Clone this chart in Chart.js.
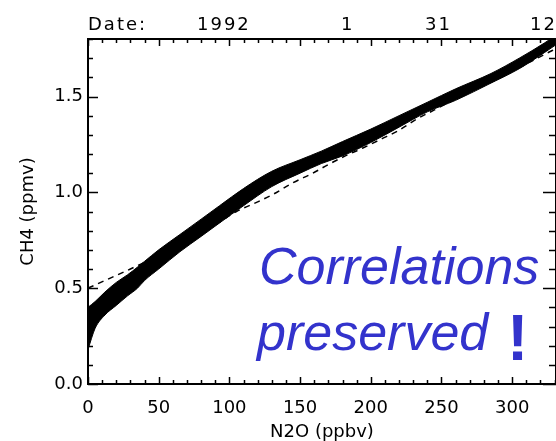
<!DOCTYPE html>
<html>
<head>
<meta charset="utf-8">
<script src="https://cdn.jsdelivr.net/npm/chart.js@4"></script>
<style>
  body { margin: 0; background: #fff; }
  canvas { display: block; }
</style>
</head>
<body>
<canvas id="chart" width="556" height="441"></canvas>
<script>
// N2O (ppbv) positions along the band
var bandX     = [0, 5, 12, 20, 28, 35, 40, 50, 65, 80, 93, 110, 130, 150, 165, 180, 200, 220, 240, 260, 285, 305, 323, 331];
// CH4 (ppmv) upper and lower edge of the scatter cloud
var bandUpper = [0.40, 0.43, 0.48, 0.53, 0.57, 0.61, 0.64, 0.70, 0.78, 0.86, 0.93, 1.02, 1.11, 1.17, 1.215, 1.265, 1.33, 1.40, 1.47, 1.54, 1.62, 1.70, 1.78, 1.82];
var bandLower = [0.18, 0.29, 0.36, 0.41, 0.46, 0.50, 0.54, 0.60, 0.69, 0.77, 0.84, 0.93, 1.03, 1.10, 1.15, 1.19, 1.26, 1.34, 1.42, 1.48, 1.57, 1.645, 1.73, 1.77];

// dashed reference curve
var dashX = [0, 15, 30, 50, 70, 90, 105, 120, 131, 145, 159, 170, 182, 194, 208, 219, 232, 245, 258, 271, 284, 297, 310, 323, 331];
var dashY = [0.50, 0.55, 0.60, 0.67, 0.74, 0.83, 0.90, 0.95, 0.99, 1.05, 1.10, 1.145, 1.19, 1.23, 1.28, 1.32, 1.38, 1.43, 1.48, 1.53, 1.57, 1.62, 1.67, 1.72, 1.75];

var xTicks = [0, 50, 100, 150, 200, 250, 300];
var yTicks = [0, 0.5, 1.0, 1.5];
var dateLabels = ['Date:', '1992', '1', '31', '12'];

function pts(xs, ys) {
    return xs.map(function (x, i) { return { x: x, y: ys[i] }; });
}

// IDL style frame: inward ticks on all four sides, date line and the note
var idlFrame = {
    id: 'idlFrame',
    afterDraw: function (chart) {
        var c = chart.ctx, a = chart.chartArea;
        var xs = chart.scales.x, ys = chart.scales.y;
        c.save();
        c.strokeStyle = '#000';
        c.lineWidth = 2;
        c.strokeRect(a.left, a.top, a.right - a.left, a.bottom - a.top);

        c.lineWidth = 1.5;
        c.beginPath();
        for (var v = 0; v <= xs.max; v += 10) {
            var px = Math.round(xs.getPixelForValue(v)) + 0.5;
            var len = v % 50 === 0 ? 7 : 4;
            c.moveTo(px, a.bottom); c.lineTo(px, a.bottom - len);
            c.moveTo(px, a.top); c.lineTo(px, a.top + len);
        }
        for (var k = 0; k <= 18; k++) {
            var py = Math.round(ys.getPixelForValue(k / 10)) + 0.5;
            var l1 = k % 5 === 0 ? 10 : 5;
            var l2 = k % 5 === 0 ? 13 : 7;
            c.moveTo(a.left, py); c.lineTo(a.left + l1, py);
            c.moveTo(a.right, py); c.lineTo(a.right - l2, py);
        }
        c.stroke();

        // date line above the plot
        var dx = [88, 197, 341, 425, 530];
        c.fillStyle = '#000';
        c.font = '18px "DejaVu Sans"';
        c.letterSpacing = '2px';
        c.textBaseline = 'alphabetic';
        c.textAlign = 'left';
        dateLabels.forEach(function (t, i) { c.fillText(t, dx[i], 30); });
        c.letterSpacing = '0px';

        // blue note
        c.fillStyle = '#3333cc';
        c.font = 'italic 52px "Liberation Sans"';
        c.fillText('Correlations', 259, 284);
        c.fillText('preserved', 257, 350);
        c.font = 'bold 64px "Liberation Sans"';
        c.fillText('!', 507, 360);
        c.restore();
    }
};

var ctx = document.getElementById('chart').getContext('2d');
var chart = new Chart(ctx, {
    type: 'line',
    data: {
        datasets: [{
            data: pts(bandX, bandUpper),
            borderColor: '#000',
            backgroundColor: '#000',
            borderWidth: 1,
            pointRadius: 0,
            cubicInterpolationMode: 'monotone',
            fill: '+1'
        }, {
            data: pts(bandX, bandLower),
            borderColor: '#000',
            borderWidth: 1,
            pointRadius: 0,
            cubicInterpolationMode: 'monotone',
            fill: false
        }, {
            data: pts(dashX, dashY),
            borderColor: '#000',
            borderWidth: 1.5,
            borderDash: [6, 5],
            pointRadius: 0,
            cubicInterpolationMode: 'monotone',
            fill: false
        }]
    },
    options: {
        responsive: false,
        animation: false,
        layout: { padding: { top: 39, right: 0, left: 0, bottom: 0 } },
        plugins: {
            legend: { display: false },
            tooltip: { enabled: false }
        },
        scales: {
            x: {
                type: 'linear',
                min: 0,
                max: 331,
                grid: { display: false, drawTicks: false },
                border: { display: false },
                afterBuildTicks: function (s) { s.ticks = xTicks.map(function (v) { return { value: v }; }); },
                afterFit: function (s) { s.height = 57; },
                ticks: {
                    padding: 14,
                    color: '#000',
                    font: { family: 'DejaVu Sans', size: 18 }
                },
                title: {
                    display: true,
                    text: 'N2O (ppbv)',
                    color: '#000',
                    padding: 0,
                    font: { family: 'DejaVu Sans', size: 18, lineHeight: 1 }
                }
            },
            y: {
                min: 0,
                max: 1.8,
                grid: { display: false, drawTicks: false },
                border: { display: false },
                afterBuildTicks: function (s) { s.ticks = yTicks.map(function (v) { return { value: v }; }); },
                afterFit: function (s) { s.width = 88; },
                ticks: {
                    padding: 5,
                    color: '#000',
                    font: { family: 'DejaVu Sans', size: 18 },
                    callback: function (v) { return v.toFixed(1); }
                },
                title: {
                    display: true,
                    text: 'CH4 (ppmv)',
                    color: '#000',
                    padding: { top: 19, bottom: 0 },
                    font: { family: 'DejaVu Sans', size: 18, lineHeight: 1 }
                }
            }
        }
    },
    plugins: [idlFrame]
});
</script>
</body>
</html>
